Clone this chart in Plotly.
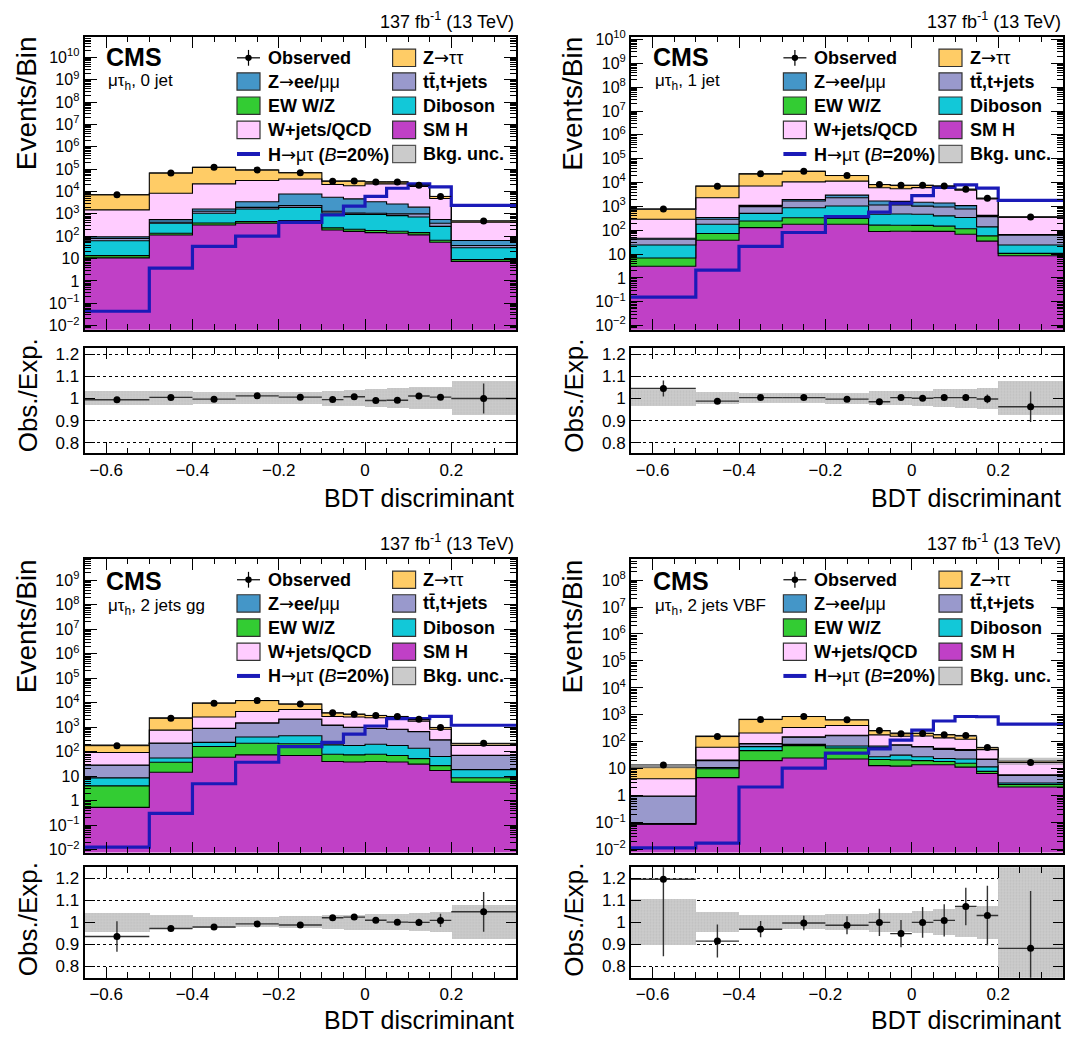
import numpy as np
import plotly.graph_objects as go

W, H = 1073, 1047
FONT = "Liberation Sans"

# ---------------- data ----------------
edges = [-0.65, -0.5, -0.4, -0.3, -0.2, -0.1, -0.05, 0.0, 0.05, 0.1, 0.15, 0.2, 0.35]
categories = ["0 jet", "1 jet", "2 jets gg", "2 jets VBF"]

# stacking order (bottom -> top): SM H, EW W/Z, Diboson, tt, Z->ee/mumu, W+jets/QCD, Z->tautau
smh_0j = [10.7, 114, 316, 380, 390, 190, 165, 145, 135, 115, 54, 7.4]
ewk_0j = [2.8, 21, 74, 70, 110, 45, 40, 35, 31, 30, 12, 1.6]
vv_0j = [49.5, 245, 670, 1200, 1460, 855, 735, 760, 664, 575, 209, 21.6]
tt_0j = [17, 40, 240, 310, 390, 210, 140, 130, 170, 280, 105, 8]
zll_0j = [15, 130, 350, 1540, 5350, 4200, 3620, 2430, 1760, 1000, 180, 26]
wj_0j = [1405, 7750, 20350, 27500, 28300, 15000, 13300, 18500, 19240, 15000, 4340, 357]
ztt_0j = [5700, 58700, 98000, 60000, 33000, 8500, 11000, 5000, 5000, 2000, 1100, 60]
obs_0j = [7160, 67300, 120600, 92000, 69400, 28900, 29200, 26800, 26800, 19200, 6040, 482]
sig_0j = [0.044, 3.7, 35, 100, 415, 890, 2200, 6100, 14000, 22000, 16000, 2400]
ratio_0j = [0.994, 1.005, 0.997, 1.012, 1.006, 0.995, 1.008, 0.991, 0.992, 1.011, 1.006, 1.000]
ratio_err_0j = [0.006, 0.004, 0.003, 0.003, 0.004, 0.006, 0.006, 0.006, 0.006, 0.007, 0.012, 0.068]
unc_0j = [0.030, 0.030, 0.026, 0.026, 0.028, 0.034, 0.035, 0.040, 0.045, 0.050, 0.050, 0.075]

smh_1j = [3.1, 38, 129, 178, 178, 88, 91, 89, 89, 68, 35, 8.5]
ewk_1j = [3.7, 35, 116, 157, 132, 75, 71, 71, 59, 47, 23, 2.2]
vv_1j = [17.2, 105, 265, 545, 720, 302, 318, 310, 252, 225, 80, 13.3]
tt_1j = [18, 112, 470, 790, 1270, 675, 670, 550, 540, 440, 232, 38]
zll_1j = [4, 50, 120, 280, 670, 530, 470, 460, 440, 290, 50, 4]
wj_1j = [244, 1960, 6000, 8750, 8430, 4330, 3880, 4620, 4720, 3730, 1630, 274]
ztt_1j = [460, 4800, 15900, 18800, 8300, 2300, 2100, 1500, 1000, 400, 140, 30]
obs_1j = [784, 7015, 23090, 29620, 19640, 8175, 7630, 7608, 7128, 5220, 2186, 356]
sig_1j = [0.155, 2.1, 21, 80, 370, 570, 1350, 2800, 6200, 7900, 5800, 1770]
ratio_1j = [1.045, 0.988, 1.004, 1.004, 0.997, 0.985, 1.004, 1.001, 1.004, 1.004, 0.998, 0.963]
ratio_err_1j = [0.036, 0.012, 0.007, 0.006, 0.007, 0.011, 0.011, 0.011, 0.012, 0.014, 0.020, 0.069]
unc_1j = [0.036, 0.028, 0.024, 0.024, 0.025, 0.030, 0.032, 0.034, 0.040, 0.043, 0.047, 0.077]

smh_gg = [0.53, 14.5, 59, 74, 70, 40, 38, 40, 38, 31, 17, 5.7]
ewk_gg = [3.47, 22.5, 103, 146, 140, 39, 36, 39, 32, 21, 10, 2.9]
vv_gg = [4.5, 18, 78, 180, 240, 111, 104, 121, 108, 86, 37, 9.9]
tt_gg = [19.5, 165, 650, 1080, 1650, 1010, 792, 690, 632, 512, 236, 51.5]
zll_gg = [0.5, 5, 10, 20, 30, 20, 20, 20, 20, 15, 7, 1]
wj_gg = [64.5, 535, 1700, 2900, 3170, 1530, 1610, 1540, 1410, 1115, 523, 107]
ztt_gg = [95, 1640, 7200, 7900, 3600, 1050, 730, 550, 510, 320, 140, 32]
obs_gg = [176, 2333, 9594, 12214, 8793, 3880, 3410, 3030, 2753, 2100, 979, 220]
sig_gg = [0.0127, 0.30, 4.9, 37, 162, 240, 520, 1120, 2250, 2250, 2750, 1200]
ratio_gg = [0.936, 0.972, 0.979, 0.993, 0.988, 1.021, 1.024, 1.010, 1.001, 1.000, 1.009, 1.048]
ratio_err_gg = [0.069, 0.013, 0.008, 0.007, 0.008, 0.012, 0.012, 0.012, 0.013, 0.017, 0.030, 0.090]
unc_gg = [0.043, 0.030, 0.025, 0.024, 0.026, 0.031, 0.034, 0.035, 0.038, 0.041, 0.044, 0.076]

smh_vbf = [0.087, 4.7, 20, 25, 23, 13, 12.5, 14, 14, 11.5, 6.7, 2.1]
ewk_vbf = [0.003, 5.3, 27, 47, 36, 9, 8.5, 6, 4.5, 4.5, 1.3, 0.5]
vv_vbf = [0.002, 1, 19, 8, 11, 6, 11, 8, 5.5, 7, 3.7, 0.35]
tt_vbf = [0.87, 9, 17, 67, 100, 34, 43, 36, 28, 25, 10.3, 2.65]
zll_vbf = [0.01, 1, 3, 5, 5, 8, 3, 3, 5, 4, 1, 0.3]
wj_vbf = [3.3, 42, 126, 188, 225, 110, 82, 98, 83, 73, 28, 11.1]
ztt_vbf = [7.2, 102, 478, 530, 260, 80, 50, 40, 42, 35, 9, 2.5]
obs_vbf = [13.8, 156, 669, 867, 651, 260, 199, 205, 184, 172, 62, 17.2]
sig_vbf = [0.0115, 0.0175, 2.1, 10.6, 38, 55, 115, 270, 590, 870, 850, 450]
ratio_vbf = [1.196, 0.915, 0.969, 0.997, 0.987, 1.000, 0.949, 1.000, 1.009, 1.072, 1.031, 0.882]
ratio_err_vbf = [0.35, 0.075, 0.037, 0.033, 0.041, 0.062, 0.062, 0.070, 0.073, 0.085, 0.135, 0.26]
unc_vbf = [0.105, 0.045, 0.032, 0.030, 0.037, 0.043, 0.043, 0.050, 0.058, 0.066, 0.075, 0.30]

stack_names = ["SM H", "EW W/Z", "Diboson", "tt", "Zll", "W+jets/QCD", "Ztautau"]
COL = {"SM H": "#c040c6", "EW W/Z": "#33cc33", "Diboson": "#12c8d8", "tt": "#9999cc",
       "Zll": "#4496c8", "W+jets/QCD": "#ffccff", "Ztautau": "#ffcc66"}
SIG_COL = "#1a1ab8"
UNC_COL = "#cbcbcb"

data = [
    dict(stack=[smh_0j, ewk_0j, vv_0j, tt_0j, zll_0j, wj_0j, ztt_0j], obs=obs_0j, sig=sig_0j,
         ratio=ratio_0j, rerr=ratio_err_0j, unc=unc_0j),
    dict(stack=[smh_1j, ewk_1j, vv_1j, tt_1j, zll_1j, wj_1j, ztt_1j], obs=obs_1j, sig=sig_1j,
         ratio=ratio_1j, rerr=ratio_err_1j, unc=unc_1j),
    dict(stack=[smh_gg, ewk_gg, vv_gg, tt_gg, zll_gg, wj_gg, ztt_gg], obs=obs_gg, sig=sig_gg,
         ratio=ratio_gg, rerr=ratio_err_gg, unc=unc_gg),
    dict(stack=[smh_vbf, ewk_vbf, vv_vbf, tt_vbf, zll_vbf, wj_vbf, ztt_vbf], obs=obs_vbf, sig=sig_vbf,
         ratio=ratio_vbf, rerr=ratio_err_vbf, unc=unc_vbf),
]

# ---------------- layout geometry (pixels) ----------------
geo = [
    dict(L=84.6, R=516, mt=29, mb=326, rt=345, rb=451.5, yr=[-2.18, 10.93], rr=[0.752, 1.226],
         lumi=12.5, cms=50.0, sub=75.3, ytop=27, obsy=393, bdty=496.6),
    dict(L=631, R=1063, mt=29, mb=326, rt=345, rb=451.5, yr=[-2.17, 10.12], rr=[0.752, 1.226],
         lumi=12.5, cms=50.0, sub=75.3, ytop=27, obsy=393, bdty=496.6),
    dict(L=84.6, R=516, mt=558, mb=856, rt=871, rb=983, yr=[-2.12, 9.89], rr=[0.748, 1.25],
         lumi=541.5, cms=581.0, sub=606.8, ytop=557, obsy=924, bdty=1026),
    dict(L=631, R=1063, mt=558, mb=856, rt=871, rb=983, yr=[-2.11, 8.8], rr=[0.748, 1.25],
         lumi=541.5, cms=581.0, sub=606.8, ytop=557, obsy=924, bdty=1026),
]


def fx(px):
    return px / W


def fy(py):
    return 1 - py / H


e = np.array(edges)
centers = 0.5 * (e[1:] + e[:-1])
halfw = 0.5 * (e[1:] - e[:-1])
widths = e[1:] - e[:-1]

fig = go.Figure()
layout = dict(width=W, height=H, margin=dict(l=0, r=0, t=0, b=0), paper_bgcolor="white",
              plot_bgcolor="white", showlegend=False, font=dict(family=FONT, color="black"),
              bargap=0)
annotations = []
shapes = []

major_log = [10.0 ** n for n in range(-2, 11)]
major_txt = []
for n in range(-2, 11):
    if n == 0:
        major_txt.append("1")
    elif n == 1:
        major_txt.append("10")
    else:
        major_txt.append("10<sup>%s</sup>" % (str(n).replace("-", "\u2212")))
minor_log = [k * 10.0 ** n for n in range(-3, 11) for k in range(2, 10)]

ARROW = "<span style='font-family:DejaVu Sans;font-weight:normal'>\u2192</span>"

for p, (d, g) in enumerate(zip(data, geo)):
    im = 2 * p + 1
    ir = 2 * p + 2
    xm, ym = ("x" if im == 1 else "x%d" % im), ("y" if im == 1 else "y%d" % im)
    xr, yr = "x%d" % ir, "y%d" % ir

    # ---- main stack ----
    fig.add_trace(go.Scatter(x=edges, y=[1e-6] * len(edges), mode="lines",
                             line=dict(width=0, shape="hv"), xaxis=xm, yaxis=ym, hoverinfo="skip"))
    cum = np.cumsum(np.array(d["stack"], dtype=float), axis=0)
    for k, name in enumerate(stack_names):
        yy = np.append(cum[k], cum[k][-1])
        fig.add_trace(go.Scatter(x=edges, y=yy, mode="lines",
                                 line=dict(color="black", width=1.1, shape="hv"),
                                 fill="tonexty", fillcolor=COL[name], xaxis=xm, yaxis=ym,
                                 hoverinfo="skip"))
    total = cum[-1]
    unc = np.array(d["unc"])
    lo = np.append(total * (1 - unc), (total * (1 - unc))[-1])
    hi = np.append(total * (1 + unc), (total * (1 + unc))[-1])
    fig.add_trace(go.Scatter(x=edges, y=lo, mode="lines", line=dict(width=0, shape="hv"),
                             xaxis=xm, yaxis=ym, hoverinfo="skip"))
    fig.add_trace(go.Scatter(x=edges, y=hi, mode="lines", line=dict(width=0, shape="hv"),
                             fill="tonexty", fillcolor="rgba(150,150,150,0.55)",
                             xaxis=xm, yaxis=ym, hoverinfo="skip"))
    sig = np.append(np.array(d["sig"]), d["sig"][-1])
    fig.add_trace(go.Scatter(x=edges, y=sig, mode="lines",
                             line=dict(color=SIG_COL, width=3.2, shape="hv"),
                             xaxis=xm, yaxis=ym, hoverinfo="skip"))
    fig.add_trace(go.Scatter(x=centers, y=d["obs"], mode="markers",
                             marker=dict(color="black", size=7),
                             error_x=dict(type="data", array=halfw, color="black", thickness=1, width=0),
                             xaxis=xm, yaxis=ym, hoverinfo="skip"))

    # ---- ratio ----
    fig.add_trace(go.Bar(x=centers, y=2 * unc, base=1 - unc, width=widths,
                         marker=dict(color=UNC_COL, line=dict(width=0),
                                     pattern=dict(shape=".", fgcolor="#b4b4b4", bgcolor=UNC_COL,
                                                  size=3, solidity=0.3)),
                         xaxis=xr, yaxis=yr, hoverinfo="skip"))
    fig.add_trace(go.Scatter(x=centers, y=d["ratio"], mode="markers",
                             marker=dict(color="black", size=7),
                             error_x=dict(type="data", array=halfw, color="#333333", thickness=1.4, width=0),
                             error_y=dict(type="data", array=d["rerr"], color="#333333", thickness=1.4, width=0),
                             xaxis=xr, yaxis=yr, hoverinfo="skip", cliponaxis=True))

    xdom = [fx(g["L"]), fx(g["R"])]
    common_x = dict(domain=xdom, range=[-0.65, 0.35], tick0=0, dtick=0.2, ticks="inside",
                    ticklen=11, tickwidth=1.3, tickcolor="black", showline=True, linewidth=2,
                    linecolor="black", mirror="allticks", showgrid=False, zeroline=False,
                    minor=dict(dtick=0.05, ticks="inside", ticklen=5.5, tickwidth=1.2, tickcolor="black"))
    layout["xaxis" if im == 1 else "xaxis%d" % im] = dict(common_x, anchor=ym, showticklabels=False)
    layout["xaxis%d" % ir] = dict(common_x, anchor=yr, showticklabels=True,
                                  tickfont=dict(size=17, family=FONT))
    layout["yaxis" if im == 1 else "yaxis%d" % im] = dict(
        domain=[fy(g["mb"]), fy(g["mt"])], type="log", range=g["yr"], anchor=xm,
        tickvals=major_log, ticktext=major_txt, ticks="inside", ticklen=12, tickwidth=1.3,
        tickcolor="black", showline=True, linewidth=2, linecolor="black", mirror="allticks",
        showgrid=False, zeroline=False, tickfont=dict(size=16, family=FONT),
        minor=dict(tickvals=minor_log, ticks="inside", ticklen=6, tickwidth=1, tickcolor="black"))
    layout["yaxis%d" % ir] = dict(
        domain=[fy(g["rb"]), fy(g["rt"])], range=g["rr"], anchor=xr,
        tickvals=[0.8, 0.9, 1.0, 1.1, 1.2], ticktext=["0.8", "0.9", "1", "1.1", "1.2"],
        ticks="inside", ticklen=10, tickwidth=1.3, tickcolor="black", showline=True, linewidth=2,
        linecolor="black", mirror="allticks", showgrid=True, gridcolor="black", griddash="dot",
        gridwidth=1, zeroline=False, tickfont=dict(size=17, family=FONT))

    # ---- texts ----
    annotations.append(dict(xref="paper", yref="paper", x=fx(g["R"]), y=fy(g["lumi"]),
                            xanchor="right", yanchor="middle", showarrow=False,
                            text="137 fb<sup>-1</sup> (13 TeV)", font=dict(size=18, family=FONT)))
    annotations.append(dict(xref="paper", yref="paper", x=fx(g["L"] + 19.5), y=fy(g["cms"]),
                            xanchor="left", yanchor="middle", showarrow=False,
                            text="<b>CMS</b>", font=dict(size=25, family=FONT)))
    annotations.append(dict(xref="paper", yref="paper", x=fx(g["L"] + 21.5), y=fy(g["sub"]),
                            xanchor="left", yanchor="middle", showarrow=False,
                            text="\u03bc\u03c4<sub>h</sub>, " + categories[p],
                            font=dict(size=17, family=FONT)))
    annotations.append(dict(xref="paper", yref="paper", x=fx(g["L"] - 58), y=fy(g["ytop"]),
                            xanchor="center", yanchor="top", textangle=-90, showarrow=False,
                            text="Events/Bin", font=dict(size=28, family=FONT)))
    annotations.append(dict(xref="paper", yref="paper", x=fx(g["L"] - 57),
                            y=fy(g["obsy"]), xanchor="center", yanchor="middle", textangle=-90,
                            showarrow=False, text="Obs./Exp.", font=dict(size=26, family=FONT)))
    annotations.append(dict(xref="paper", yref="paper", x=fx(g["R"]), y=fy(g["bdty"]),
                            xanchor="right", yanchor="middle", showarrow=False,
                            text="BDT discriminant", font=dict(size=25, family=FONT)))

    # ---- legend ----
    rows = [g["mt"] + r for r in (21.5, 45.5, 70, 94.5, 119)]
    c1b, c1t = g["L"] + 152.4, g["L"] + 181
    c2b, c2t = g["L"] + 308, g["L"] + 336.5
    bw, bh = 23, 17.6

    def box(xl, yc, color, lc="#333333"):
        shapes.append(dict(type="rect", xref="paper", yref="paper", x0=fx(xl), x1=fx(xl + bw),
                           y0=fy(yc + bh / 2), y1=fy(yc - bh / 2), fillcolor=color,
                           line=dict(color=lc, width=1.2)))

    def txt(xl, yc, s):
        annotations.append(dict(xref="paper", yref="paper", x=fx(xl), y=fy(yc), xanchor="left",
                                yanchor="middle", showarrow=False, text=s,
                                font=dict(size=18, family=FONT)))

    # Observed
    shapes.append(dict(type="line", xref="paper", yref="paper", x0=fx(c1b), x1=fx(c1b + bw),
                       y0=fy(rows[0]), y1=fy(rows[0]), line=dict(color="black", width=1.2)))
    shapes.append(dict(type="line", xref="paper", yref="paper", x0=fx(c1b + bw / 2), x1=fx(c1b + bw / 2),
                       y0=fy(rows[0] - 8), y1=fy(rows[0] + 8), line=dict(color="black", width=1.2)))
    shapes.append(dict(type="circle", xref="paper", yref="paper", x0=fx(c1b + bw / 2 - 3.2),
                       x1=fx(c1b + bw / 2 + 3.2), y0=fy(rows[0] + 3.2), y1=fy(rows[0] - 3.2),
                       fillcolor="black", line=dict(color="black", width=0)))
    txt(c1t, rows[0], "<b>Observed</b>")
    box(c1b, rows[1], COL["Zll"]); txt(c1t, rows[1], "<b>Z</b>" + ARROW + "<b>ee/</b>\u03bc\u03bc")
    box(c1b, rows[2], COL["EW W/Z"]); txt(c1t, rows[2], "<b>EW W/Z</b>")
    box(c1b, rows[3], COL["W+jets/QCD"]); txt(c1t, rows[3], "<b>W+jets/QCD</b>")
    shapes.append(dict(type="line", xref="paper", yref="paper", x0=fx(c1b), x1=fx(c1b + bw),
                       y0=fy(rows[4]), y1=fy(rows[4]), line=dict(color=SIG_COL, width=4)))
    txt(c1t, rows[4], "<b>H</b>" + ARROW + "\u03bc\u03c4<b> (</b><i>B</i><b>=20%)</b>")
    box(c2b, rows[0], COL["Ztautau"]); txt(c2t, rows[0], "<b>Z</b>" + ARROW + "\u03c4\u03c4")
    box(c2b, rows[1], COL["tt"]); txt(c2t, rows[1], "<b>tt\u0304,t+jets</b>")
    box(c2b, rows[2], COL["Diboson"]); txt(c2t, rows[2], "<b>Diboson</b>")
    box(c2b, rows[3], COL["SM H"]); txt(c2t, rows[3], "<b>SM H</b>")
    box(c2b, rows[4], UNC_COL, lc="#555555"); txt(c2t, rows[4], "<b>Bkg. unc.</b>")

layout["annotations"] = annotations
layout["shapes"] = shapes
fig.update_layout(**layout)
fig.write_html("out.html", config={"displayModeBar": False},
               post_script="document.body.style.margin='0';document.body.style.padding='0';"
                           "document.body.style.overflow='hidden';")
